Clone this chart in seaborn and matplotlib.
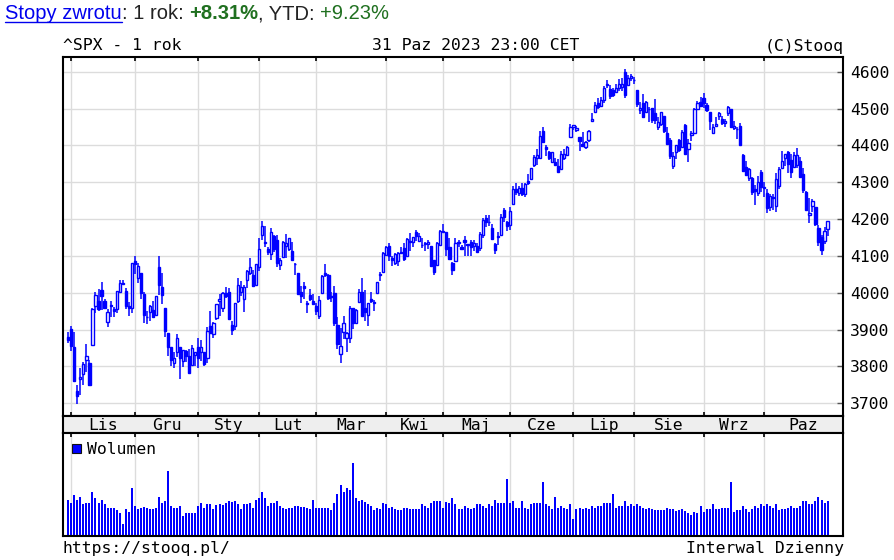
import numpy as np
import pandas as pd
import matplotlib
matplotlib.use("Agg")
import matplotlib.pyplot as plt
import seaborn as sns
from matplotlib.patches import Rectangle
from matplotlib.lines import Line2D

# ^SPX notowania dzienne, 31.10.2022 - 31.10.2023
start, end = "2022-10-31", "2023-10-31"
holidays = ["2022-11-24", "2022-12-26", "2023-01-02", "2023-01-16", "2023-02-20",
            "2023-04-07", "2023-05-29", "2023-06-19", "2023-07-04", "2023-09-04"]
month_names = ["Lis", "Gru", "Sty", "Lut", "Mar", "Kwi", "Maj", "Cze", "Lip", "Sie", "Wrz", "Paz"]
yticks = [3700, 3800, 3900, 4000, 4100, 4200, 4300, 4400, 4500, 4600]

open_ = [3881,
    3901, 3853, 3734, 3767, 3780, 3818, 3810, 3859, 3964, 3977, 4007, 3977, 3920, 3967, 3957, 3956, 4001, 4024, 4006, 3964, 3958,
    4087, 4041, 4053, 3996, 3934, 3947, 3954, 3939, 4070, 4015, 3958, 3891, 3853, 3810, 3839, 3853, 3816, 3843, 3829, 3805, 3830,
    3853, 3840, 3839, 3823, 3910, 3889, 3932, 3977, 3960, 3999, 4003, 3912, 3909, 3979, 4001, 3982, 4036, 4053, 4049, 4021,
    4071, 4158, 4137, 4120, 4106, 4153, 4144, 4075, 4097, 4126, 4119, 4114, 4077, 4054, 4001, 4018, 3973, 3993, 3977,
    3964, 3938, 3999, 4055, 4049, 3988, 3999, 3912, 3835, 3894, 3876, 3878, 3958, 3917, 3975, 4002, 3959, 3939, 3983, 3974, 3999, 4047, 4057,
    4102, 4128, 4094, 4082, 4086, 4111, 4121, 4100, 4140, 4137, 4164, 4140, 4131, 4133, 4132, 4126, 4088, 4076, 4129,
    4166, 4165, 4123, 4082, 4085, 4136, 4125, 4144, 4133, 4139, 4127, 4127, 4122, 4157, 4204, 4191, 4177, 4133, 4155, 4156, 4226, 4191,
    4184, 4241, 4283, 4272, 4285, 4268, 4304, 4308, 4346, 4366, 4366, 4440, 4397, 4381, 4355, 4354, 4345, 4337, 4367, 4375, 4423,
    4450, 4442, 4423, 4405, 4395, 4415, 4467, 4492, 4514, 4508, 4523, 4565, 4554, 4551, 4544, 4555, 4558, 4598, 4565, 4584,
    4578, 4550, 4495, 4514, 4491, 4498, 4501, 4487, 4450, 4458, 4479, 4434, 4416, 4344, 4381, 4416, 4397, 4455, 4389, 4427, 4433, 4500, 4518,
    4530, 4511, 4490, 4434, 4452, 4480, 4473, 4462, 4487, 4498, 4446, 4445, 4452, 4375, 4342, 4311, 4312, 4282, 4270, 4328,
    4284, 4270, 4234, 4260, 4235, 4289, 4339, 4367, 4381, 4360, 4342, 4346, 4357, 4322, 4274, 4211, 4235, 4232, 4175, 4152, 4140, 4172]

high = [3893,
    3911, 3894, 3750, 3796, 3813, 3860, 3818, 3958, 4001, 4009, 4029, 3983, 3955, 3979, 3962, 4004, 4034, 4034, 4013, 3976, 4080,
    4100, 4080, 4053, 4001, 3951, 3966, 3978, 3991, 4101, 4054, 3959, 3891, 3854, 3839, 3889, 3853, 3846, 3846, 3848, 3858, 3840,
    3878, 3873, 3839, 3906, 3951, 3920, 3970, 3998, 4003, 4015, 4014, 3923, 3973, 4039, 4033, 4020, 4061, 4095, 4063, 4077,
    4149, 4195, 4182, 4124, 4176, 4157, 4157, 4095, 4140, 4160, 4149, 4137, 4082, 4054, 4018, 4028, 3979, 4009, 3997,
    3972, 3991, 4048, 4079, 4051, 4002, 4018, 3935, 3905, 3937, 3894, 3965, 3958, 3956, 4009, 4039, 4007, 3973, 4003, 3980, 4030, 4056, 4110,
    4128, 4134, 4100, 4108, 4110, 4125, 4134, 4150, 4163, 4152, 4170, 4163, 4148, 4138, 4143, 4127, 4089, 4138, 4170,
    4187, 4165, 4148, 4083, 4148, 4143, 4131, 4155, 4133, 4143, 4142, 4136, 4165, 4202, 4212, 4210, 4186, 4135, 4165, 4213, 4231, 4196,
    4232, 4291, 4299, 4289, 4299, 4298, 4323, 4340, 4375, 4391, 4439, 4449, 4401, 4386, 4382, 4367, 4363, 4384, 4390, 4398, 4458,
    4456, 4454, 4423, 4436, 4412, 4441, 4489, 4517, 4528, 4532, 4562, 4578, 4565, 4556, 4568, 4581, 4582, 4607, 4590, 4595,
    4585, 4551, 4519, 4540, 4520, 4504, 4502, 4527, 4477, 4490, 4479, 4450, 4421, 4381, 4400, 4418, 4443, 4458, 4418, 4440, 4501, 4521, 4532,
    4542, 4515, 4490, 4458, 4478, 4491, 4481, 4472, 4508, 4498, 4466, 4451, 4462, 4376, 4357, 4338, 4313, 4292, 4318, 4333,
    4300, 4281, 4268, 4267, 4325, 4341, 4386, 4378, 4385, 4377, 4383, 4394, 4368, 4339, 4277, 4256, 4255, 4232, 4184, 4156, 4179, 4194]

low = [3863,
    3843, 3758, 3698, 3722, 3751, 3785, 3748, 3859, 3944, 3950, 3953, 3955, 3907, 3933, 3934, 3946, 3999, 4020, 3955, 3937, 3944,
    4050, 4026, 3984, 3919, 3916, 3923, 3933, 3937, 3994, 3970, 3879, 3828, 3801, 3795, 3827, 3765, 3798, 3813, 3781, 3805, 3801,
    3795, 3815, 3802, 3810, 3887, 3877, 3925, 3937, 3947, 3985, 3926, 3886, 3900, 3972, 3990, 3949, 4013, 4048, 4016, 4021,
    4058, 4142, 4123, 4103, 4089, 4111, 4070, 4061, 4097, 4095, 4114, 4089, 4048, 3996, 3973, 3983, 3944, 3977, 3969,
    3940, 3928, 3996, 4044, 3980, 3975, 3909, 3847, 3809, 3874, 3839, 3864, 3902, 3917, 3971, 3937, 3923, 3909, 3971, 3951, 3999, 4033, 4057,
    4101, 4086, 4073, 4075, 4073, 4104, 4087, 4100, 4114, 4124, 4140, 4140, 4122, 4114, 4118, 4071, 4049, 4076, 4127,
    4164, 4099, 4088, 4049, 4085, 4124, 4117, 4099, 4100, 4099, 4114, 4110, 4114, 4150, 4178, 4181, 4143, 4104, 4129, 4154, 4192, 4167,
    4171, 4241, 4266, 4263, 4264, 4261, 4293, 4305, 4342, 4347, 4363, 4407, 4371, 4360, 4351, 4346, 4328, 4336, 4360, 4371, 4423,
    4442, 4437, 4385, 4397, 4389, 4408, 4464, 4490, 4498, 4505, 4515, 4557, 4527, 4532, 4541, 4547, 4548, 4528, 4563, 4576,
    4567, 4505, 4486, 4475, 4491, 4464, 4461, 4458, 4443, 4453, 4433, 4404, 4364, 4335, 4362, 4382, 4397, 4376, 4356, 4411, 4431, 4496, 4507,
    4502, 4490, 4442, 4431, 4451, 4468, 4455, 4451, 4479, 4447, 4442, 4417, 4402, 4329, 4316, 4303, 4265, 4239, 4263, 4274,
    4260, 4217, 4221, 4225, 4220, 4283, 4339, 4345, 4325, 4312, 4342, 4339, 4311, 4270, 4224, 4189, 4220, 4182, 4127, 4103, 4132, 4154]

close = [3872,
    3856, 3760, 3720, 3771, 3807, 3828, 3749, 3956, 3993, 3957, 3992, 3959, 3947, 3965, 3950, 4004, 4027, 4026, 3964, 3958, 4080,
    4077, 4072, 3999, 3941, 3934, 3964, 3934, 3991, 4020, 3995, 3896, 3852, 3818, 3822, 3878, 3822, 3845, 3829, 3783, 3849, 3840,
    3824, 3853, 3808, 3895, 3892, 3919, 3970, 3983, 3999, 3991, 3929, 3899, 3973, 4020, 4017, 4016, 4060, 4071, 4018, 4077,
    4119, 4180, 4136, 4111, 4164, 4118, 4082, 4090, 4137, 4136, 4148, 4090, 4079, 3997, 3991, 4012, 3970, 3982, 3970,
    3951, 3981, 4046, 4048, 3986, 3992, 3918, 3862, 3856, 3919, 3892, 3960, 3917, 3952, 4003, 3937, 3949, 3971, 3978, 3971, 4028, 4051, 4109,
    4125, 4101, 4090, 4105, 4109, 4109, 4092, 4146, 4138, 4151, 4155, 4155, 4130, 4134, 4137, 4072, 4056, 4135, 4169,
    4168, 4120, 4091, 4061, 4136, 4138, 4119, 4138, 4131, 4124, 4136, 4110, 4159, 4198, 4192, 4193, 4146, 4115, 4151, 4205, 4206, 4180,
    4221, 4282, 4274, 4284, 4268, 4294, 4299, 4339, 4369, 4373, 4426, 4410, 4389, 4366, 4382, 4348, 4329, 4378, 4377, 4396, 4450,
    4456, 4447, 4412, 4399, 4410, 4439, 4472, 4510, 4505, 4523, 4555, 4566, 4535, 4536, 4555, 4567, 4567, 4537, 4582, 4589,
    4577, 4513, 4502, 4478, 4518, 4499, 4468, 4469, 4464, 4490, 4438, 4404, 4370, 4370, 4400, 4388, 4436, 4376, 4406, 4433, 4498, 4515, 4508,
    4516, 4497, 4465, 4451, 4457, 4487, 4462, 4467, 4505, 4450, 4454, 4444, 4402, 4330, 4320, 4337, 4274, 4275, 4300, 4288,
    4288, 4229, 4264, 4258, 4309, 4336, 4358, 4377, 4350, 4328, 4374, 4373, 4315, 4278, 4224, 4217, 4248, 4187, 4137, 4117, 4167, 4194]

# wolumen (mln)
volume = [
    2850, 2670, 3250, 2850, 3120, 2530, 2670, 2670, 3520, 3070,
    2670, 2850, 2530, 2270, 2270, 2210, 2080, 1810, 990, 2130,
    1920, 3840, 2400, 2190, 2270, 2350, 2240, 2190, 2190, 2270,
    3120, 2670, 2800, 5200, 2400, 2270, 2210, 2400, 1570, 1810,
    1810, 1810, 1810, 2400, 2640, 2270, 2530, 2530, 2190, 2450,
    2530, 2450, 2640, 2800, 2750, 2800, 2530, 2190, 2530, 2530,
    2670, 2270, 2850, 3010, 3520, 3010, 2400, 2670, 2670, 2800,
    2400, 2270, 2190, 2270, 2270, 2400, 2400, 2320, 2320, 2270,
    2130, 2880, 2270, 2270, 2270, 2270, 2270, 2050, 2640, 3390,
    4080, 3520, 3810, 3710, 5870, 3010, 2800, 2850, 2750, 2530,
    2400, 2050, 2270, 2190, 2640, 2530, 2270, 2350, 2130, 2050,
    2050, 2270, 2270, 2190, 2190, 2190, 2190, 2530, 2430, 2270,
    2640, 2800, 2800, 2800, 2270, 2750, 2640, 3010, 2530, 2190,
    2190, 2400, 2270, 2190, 2270, 2530, 2530, 2400, 2270, 2530,
    2400, 2850, 2640, 2640, 2640, 4590, 2640, 2800, 2270, 2270,
    2800, 2270, 2190, 2530, 2640, 2640, 2640, 4320, 2530, 2400,
    2130, 3120, 2270, 2400, 2270, 2130, 2530, 1330, 2190, 2270,
    2190, 2270, 2190, 2400, 2270, 2400, 2400, 2640, 2640, 2640,
    3360, 2270, 2400, 2400, 2800, 2400, 2530, 2400, 2530, 2400,
    2270, 2190, 2270, 2190, 2050, 2050, 2050, 2050, 2270, 2190,
    2190, 2000, 2080, 2190, 2000, 1870, 1680, 1920, 1810, 2400,
    1920, 2130, 2130, 2530, 2190, 2190, 2270, 2270, 2270, 4320,
    1920, 2050, 2050, 2400, 2190, 1920, 2190, 2400, 2270, 2530,
    2400, 2530, 2400, 2270, 2530, 2080, 2130, 2130, 2270, 2400,
    2270, 2270, 2400, 2800, 2800, 2530, 2530, 2800, 3120, 2850,
    2640, 2800]

dates = pd.bdate_range(start, end)
dates = dates[~dates.isin(pd.to_datetime(holidays))]
df = pd.DataFrame({"date": dates, "open": open_, "high": high, "low": low,
                   "close": close, "volume": volume})
df["idx"] = np.arange(len(df))
month_starts = df["idx"][df["date"].dt.month.diff() != 0].values[1:]

BLUE = "#0000ff"
GRID = "#dcdcdc"
W, H = 894, 560

sns.set_theme(style="white")
plt.rcParams["font.family"] = ["DejaVu Sans Mono"]
plt.rcParams["axes.edgecolor"] = "black"

fig = plt.figure(figsize=(W / 100, H / 100), dpi=100)
fig.patch.set_facecolor("white")


def rect(x0, y0, x1, y1):
    return [x0 / W, 1 - y1 / H, (x1 - x0) / W, (y1 - y0) / H]


ax = fig.add_axes(rect(63.3, 57, 843.3, 416))
axm = fig.add_axes(rect(63.3, 416, 843.3, 433))
axv = fig.add_axes(rect(63.3, 433, 843.3, 536))

xmin, xmax = -1.64, 256.2
MONO = 11.8

# --- wykres świecowy ---
for y in yticks:
    ax.axhline(y, color=GRID, lw=1.0, zorder=0)
for m in month_starts:
    ax.axvline(m, color=GRID, lw=1.0, zorder=0)

up = df["close"] >= df["open"]
body_lo = df[["open", "close"]].min(axis=1)
body_h = (df["close"] - df["open"]).abs().clip(lower=0.8)
ax.vlines(df["idx"], df["low"], df["high"], color=BLUE, lw=1.1, zorder=2)
ax.bar(df["idx"][up], body_h[up], bottom=body_lo[up], width=0.72,
       facecolor="white", edgecolor=BLUE, linewidth=1.0, zorder=3)
ax.bar(df["idx"][~up], body_h[~up], bottom=body_lo[~up], width=0.72,
       facecolor=BLUE, edgecolor=BLUE, linewidth=1.0, zorder=3)

ax.set_xlim(xmin, xmax)
ax.set_ylim(3665.5, 4640)
ax.set_yticks(yticks)
ax.set_yticklabels([str(v) for v in yticks], fontsize=MONO, color="black")
ax.yaxis.tick_right()
ax.set_xticks(month_starts)
ax.set_xticklabels([])
ax.tick_params(axis="x", which="both", direction="in", length=3, width=1.2,
               top=True, bottom=True, color="black")
ax.tick_params(axis="y", direction="in", length=4, width=1, pad=5, color="#555555",
               right=True, left=False)
for s in ax.spines.values():
    s.set_linewidth(1.5)

# --- pasek miesięcy ---
axm.set_facecolor("#eeeeee")
axm.set_xlim(xmin, xmax)
axm.set_ylim(0, 1)
axm.set_xticks([])
axm.set_yticks([])
bounds = list(month_starts) + [xmax]
for i, name in enumerate(month_names):
    axm.text((bounds[i] + bounds[i + 1]) / 2, 0.45, name, ha="center", va="center",
             fontsize=MONO, color="black")
for s in axm.spines.values():
    s.set_linewidth(1.5)

# --- wolumen ---
for m in month_starts:
    axv.axvline(m, color=GRID, lw=1.0, zorder=0)
sns.barplot(data=df, x="idx", y="volume", native_scale=True, color=BLUE,
            saturation=1, width=0.66, errorbar=None, linewidth=0, ax=axv, zorder=2)
axv.set_xlim(xmin, xmax)
axv.set_ylim(0, 8250)
axv.set_xlabel("")
axv.set_ylabel("")
axv.set_xticks(month_starts)
axv.set_xticklabels([])
axv.set_yticks([])
axv.tick_params(axis="x", direction="in", length=3, width=1.2, top=True,
                bottom=False, color="black")
for s in axv.spines.values():
    s.set_linewidth(1.5)

fig.patches.append(Rectangle((71.7 / W, 1 - 453 / H), 9.5 / W, 9.5 / H,
                             transform=fig.transFigure, facecolor=BLUE,
                             edgecolor="#111111", linewidth=0.8))
fig.text(87 / W, 1 - 454 / H, "Wolumen", fontsize=MONO, va="baseline", color="black")

# --- napisy ---
fig.text(63 / W, 1 - 50.5 / H, "^SPX - 1 rok", fontsize=MONO, va="baseline", color="black")
fig.text(476 / W, 1 - 50.5 / H, "31 Paz 2023 23:00 CET", fontsize=MONO, va="baseline",
         ha="center", color="black")
fig.text(844 / W, 1 - 50.5 / H, "(C)Stooq", fontsize=MONO, va="baseline", ha="right",
         color="black")
fig.text(63 / W, 1 - 553 / H, "https://stooq.pl/", fontsize=MONO, va="baseline", color="black")
fig.text(844 / W, 1 - 553 / H, "Interwal Dzienny", fontsize=MONO, va="baseline",
         ha="right", color="black")

renderer = fig.canvas.get_renderer()
segments = [("Stopy zwrotu", "#0000ee", "normal"),
            (": 1 rok: ", "#222222", "normal"),
            ("+8.31%", "#207020", "bold"),
            (", YTD: ", "#222222", "normal"),
            ("+9.23%", "#207020", "normal")]
x = 5.0
for i, (txt, col, wt) in enumerate(segments):
    t = fig.text(x / W, 1 - 19 / H, txt, fontsize=14.5, color=col, fontweight=wt,
                 family=["Liberation Sans", "DejaVu Sans"], va="baseline")
    bb = t.get_window_extent(renderer)
    if i == 0:
        fig.add_artist(Line2D([bb.x0 / W, bb.x1 / W], [1 - 21.5 / H, 1 - 21.5 / H],
                              transform=fig.transFigure, color=col, lw=1))
    x = bb.x1

fig.savefig("out.png", dpi=100)
